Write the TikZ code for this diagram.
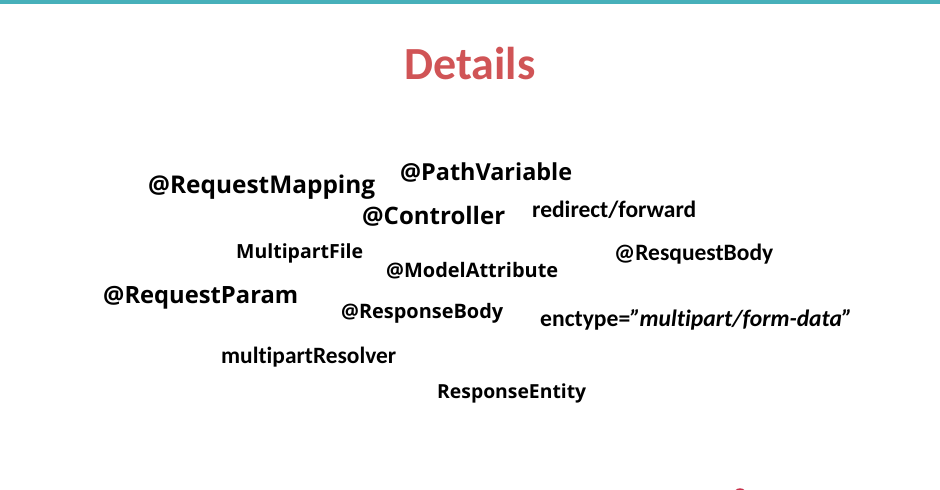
\documentclass[tikz,border=0pt]{standalone}
\usepackage{fontspec}
\usepackage{graphicx}
\setmainfont[Ligatures={CommonOff}]{Carlito}
\newfontfamily\segoe{Open Sans}
\definecolor{barteal}{HTML}{47B0BA}
\definecolor{titlered}{HTML}{D05456}
\definecolor{markred}{HTML}{C8304A}
\newcommand{\fitw}[2]{\resizebox{#1pt}{!}{#2}}
\begin{document}
\begin{tikzpicture}[x=1pt,y=-1pt,
  word/.style={anchor=west,inner sep=0pt,text=black},
  title/.style={anchor=center,inner sep=0pt,text=titlered}]
\useasboundingbox (0,0) rectangle (940,490);
\begin{scope}
\clip (0,0) rectangle (940,490);
\fill[barteal] (0,0) rectangle (940,4);
\draw[markred,line width=1.4pt] (740,495) circle (6);
\end{scope}
\node[title] (t) at (470,64) {\fitw{131}{\bfseries Details}};
\node[word] (rm) at (148,187) {\fitw{227}{\segoe\bfseries @RequestMapping}};
\node[word] (pv) at (400,172) {\fitw{172}{\segoe\bfseries @PathVariable}};
\node[word] (ct) at (362,216) {\fitw{143}{\segoe\bfseries @Controller}};
\node[word] (rf) at (532,210) {\fitw{164}{\bfseries redirect/forward}};
\node[word] (mf) at (236,253) {\fitw{127}{\segoe\bfseries MultipartFile}};
\node[word] (rb) at (614,254) {\fitw{159}{\bfseries @ResquestBody}};
\node[word] (ma) at (386,271) {\fitw{172}{\segoe\bfseries @ModelAttribute}};
\node[word] (rp) at (103,298) {\fitw{195}{\segoe\bfseries @RequestParam}};
\node[word] (rsb) at (341,313) {\fitw{162}{\segoe\bfseries @ResponseBody}};
\node[word] (ec) at (540,320) {\fitw{312}{\bfseries enctype=\textit{"multipart/form-data”}}};
\node[word] (mr) at (221,357) {\fitw{175}{\bfseries multipartResolver}};
\node[word] (re) at (437,393) {\fitw{149}{\segoe\bfseries ResponseEntity}};
\end{tikzpicture}
\end{document}
